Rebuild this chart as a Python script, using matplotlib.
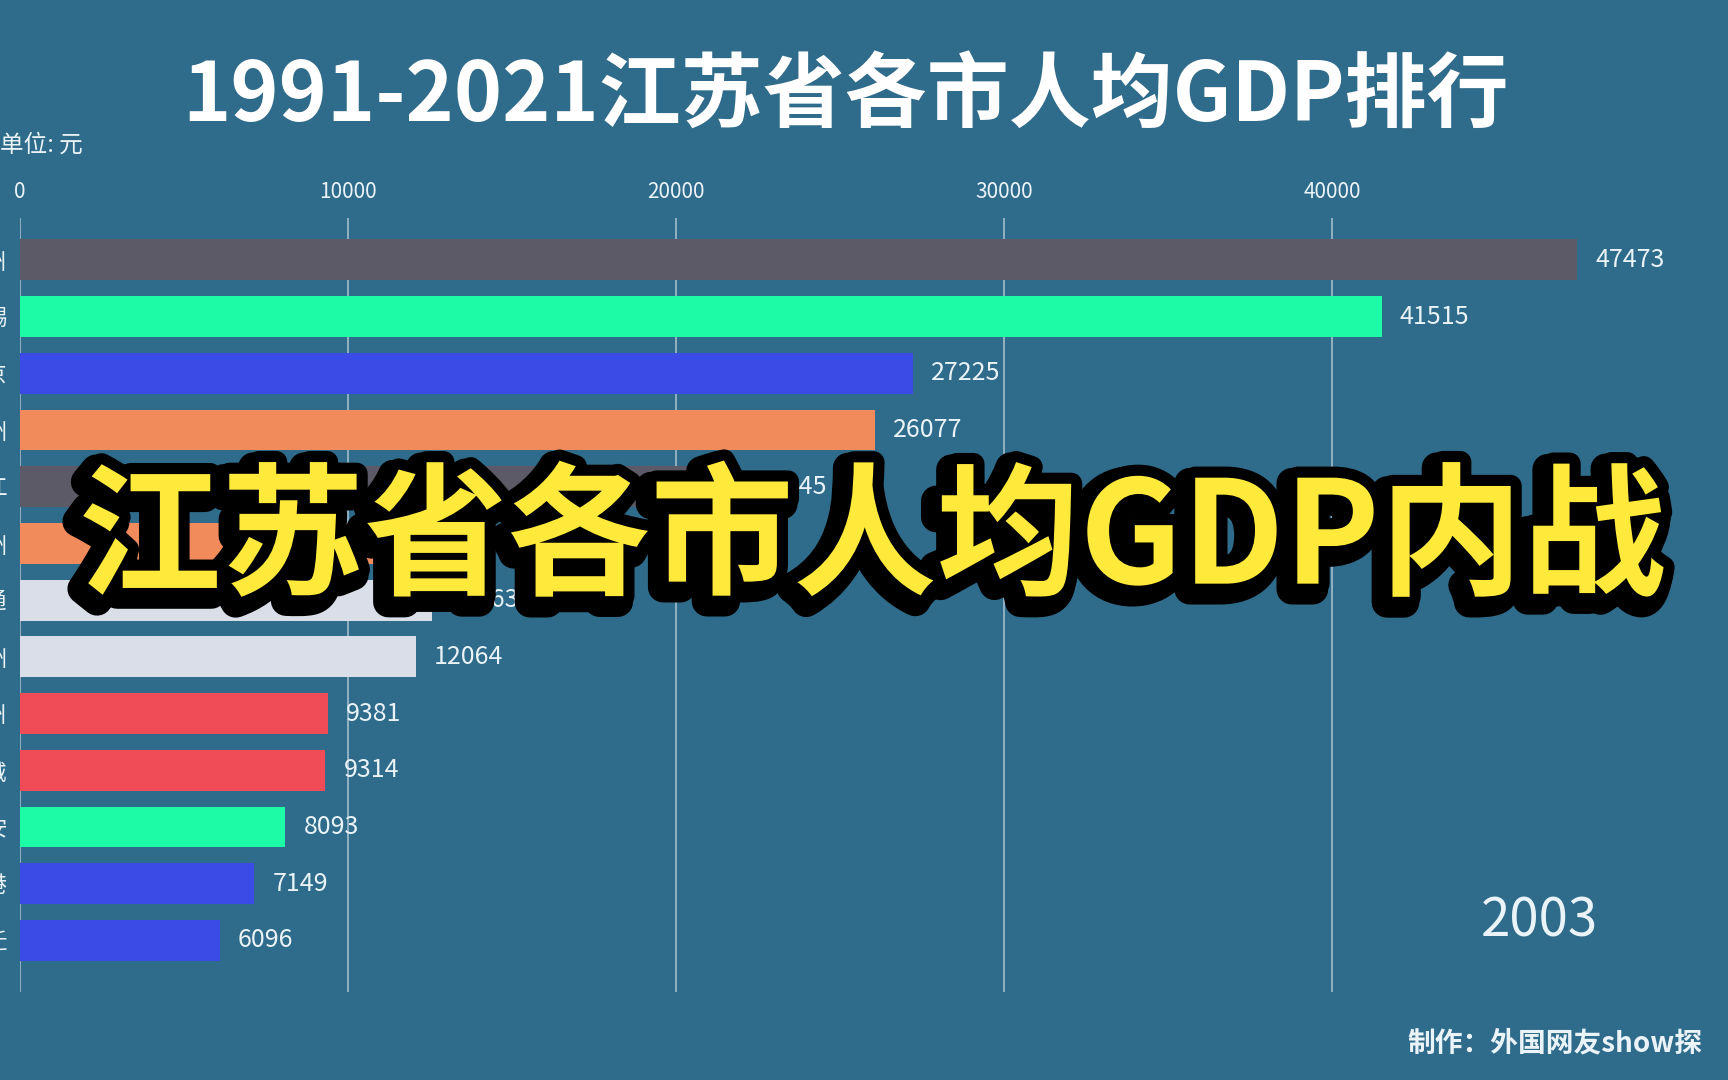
import matplotlib
matplotlib.use("Agg")
import matplotlib.pyplot as plt
import matplotlib.patheffects as pe

plt.rcParams['font.family'] = ['Noto Sans CJK SC', 'DejaVu Sans']

# 2003 data, per capita GDP (yuan)
cities = ['苏州', '无锡', '南京', '常州', '镇江', '扬州', '南通', '泰州',
          '徐州', '盐城', '淮安', '连云港', '宿迁']
gdp = [47473, 41515, 27225, 26077, 21945, 13900, 12563, 12064,
       9381, 9314, 8093, 7149, 6096]
colors = ['#5b5a66', '#1efba6', '#3a4be6', '#f28b5c', '#5b5a66', '#f28b5c',
          '#d9dee8', '#d9dee8', '#ef4c58', '#ef4c58', '#1efba6', '#3a4be6',
          '#3a4be6']
xticks = [0, 10000, 20000, 30000, 40000]
year = '2003'

bg = '#2f6b8a'
txt = '#eaf3f8'

fig = plt.figure(figsize=(17.28, 10.8), dpi=100, facecolor=bg)
ax = fig.add_axes([0.01157, 0.0815, 0.949, 0.7167])
ax.set_facecolor(bg)

ypos = list(range(len(cities)))
ax.barh(ypos, gdp, height=0.72, color=colors, zorder=3)
for y, v in zip(ypos, gdp):
    ax.annotate(str(v), (v, y), xytext=(13, 0), textcoords='offset points',
                va='center', ha='left', fontsize=18, color=txt, zorder=4)

ax.set_xlim(0, 50000)
ax.set_ylim(12.91, -0.74)
ax.set_yticks(ypos)
ax.set_yticklabels(cities, fontsize=16, color=txt)
ax.set_xticks(xticks)
ax.set_xticklabels([str(t) for t in xticks], fontsize=15, color=txt)
ax.xaxis.tick_top()
ax.tick_params(axis='x', length=0, pad=11)
ax.tick_params(axis='y', length=0, pad=9)
ax.grid(axis='x', color='#a3bccb', linewidth=1.2, zorder=1)
for s in ax.spines.values():
    s.set_visible(False)

fig.text(0.4896, 0.909, '1991-2021江苏省各市人均GDP排行', ha='center', va='center',
         fontsize=59, color='white', fontweight='bold')
fig.text(0.0, 0.866, '单位: 元', ha='left', va='center', fontsize=17, color=txt)
fig.text(0.8906, 0.147, year, ha='center', va='center', fontsize=38, color=txt)
fig.text(0.985, 0.034, '制作：外国网友show探', ha='right', va='center',
         fontsize=20, color=txt, fontweight='bold')

# big overlay caption
fig.text(0.5045, 0.498, '江苏省各市人均GDP内战', ha='center', va='center',
         fontsize=103, color='#ffea3b', fontweight='heavy', zorder=10,
         path_effects=[pe.Stroke(linewidth=22, foreground='black', offset=(-4, -4)),
                       pe.Stroke(linewidth=16, foreground='black'),
                       pe.Normal()])

fig.savefig('out.png', dpi=100, facecolor=bg)
